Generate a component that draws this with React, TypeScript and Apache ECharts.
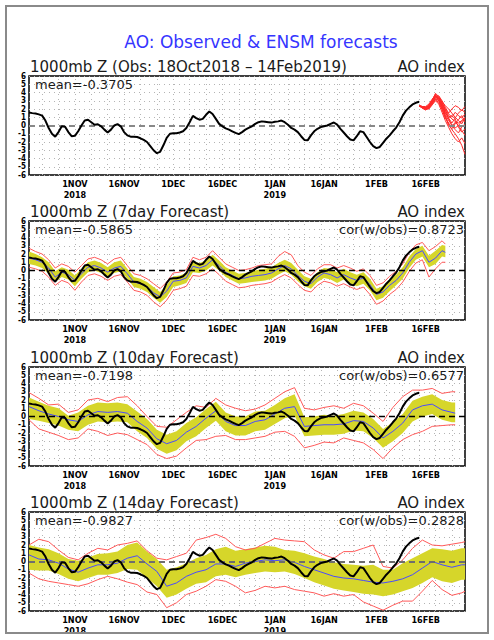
import React, { useEffect, useRef } from "react";
import * as echarts from "echarts";

// x axis: day index, day 0 = 18 Oct 2018, day 133 = 28 Feb 2019
const X_MAX_DAY = 133;
const TICK_DAYS = [14, 29, 44, 59, 75, 90, 106, 121];
const TICK_LABELS = ["1NOV\n2018", "16NOV", "1DEC", "16DEC", "1JAN\n2019", "16JAN", "1FEB", "16FEB"];
const Y_MIN = -6;
const Y_MAX = 6;

const MAIN_TITLE = "AO: Observed & ENSM forecasts";
const PANEL_TITLES = [
  "1000mb Z (Obs: 18Oct2018 – 14Feb2019)",
  "1000mb Z (7day Forecast)",
  "1000mb Z (10day Forecast)",
  "1000mb Z (14day Forecast)",
];
const PANEL_RIGHT = "AO index";
const PANEL_MEANS = ["mean=-0.3705", "mean=-0.5865", "mean=-0.7198", "mean=-0.9827"];
const PANEL_CORS = ["", "cor(w/obs)=0.8723", "cor(w/obs)=0.6577", "cor(w/obs)=0.2828"];

// Observed AO, daily from 18 Oct 2018 (day 0) to 14 Feb 2019 (day 119)
const OBS = [
  1.58, 1.5, 1.45, 1.35, 1.2, 0.6, -0.3, -1.0, -1.35, -0.8,
  -0.1, -0.15, -0.8, -1.3, -1.25, -0.7, 0.0, 0.6, 0.7, 0.4,
  0.1, 0.15, -0.1, -0.5, -0.85, -0.5, 0.0, 0.16, -0.1, -0.8,
  -1.2, -1.35, -1.35, -1.4, -1.55, -1.75, -2.0, -2.5, -3.0, -3.35,
  -3.2, -2.4, -1.5, -1.0, -0.93, -0.95, -0.85, -0.7, -0.3, 0.4,
  1.17, 0.9, 0.7, 0.8, 1.3, 1.7, 1.4, 0.8, 0.2, -0.1,
  -0.35, -0.5, -0.7, -0.9, -1.05, -0.8, -0.5, -0.3, -0.1, 0.2,
  0.4, 0.5, 0.45, 0.4, 0.35, 0.45, 0.5, 0.6, 0.4, 0.1,
  -0.3, -0.5, -0.8, -1.3, -1.75, -1.8, -1.2, -0.7, -0.4, -0.2,
  -0.1, 0.0, 0.2, 0.36, 0.1, -0.4, -0.85, -1.3, -1.7, -1.8,
  -1.3, -0.7, -0.8, -1.4, -2.0, -2.5, -2.75, -2.6, -2.1, -1.6,
  -1.2, -0.7, -0.25, 0.4, 1.2, 1.8, 2.2, 2.55, 2.75, 2.87,
];

// Panel 1: ensemble members, days 119..133
const ENS_DAYS = [119, 120, 121, 122, 123, 124, 125, 126, 127, 128, 129, 130, 131, 132, 133];
const ENS_MEMBERS = [
  [2.4, 2.2, 2.2, 2.5, 3.1, 3.8, 3.4, 2.6, 1.8, 1.2, 0.8, 0.5, 0.3, 0.6, 1.0],
  [2.4, 2.3, 2.1, 2.3, 2.8, 3.5, 3.6, 3.0, 2.2, 1.5, 2.0, 2.4, 2.2, 1.8, 2.3],
  [2.4, 2.2, 2.0, 2.1, 2.6, 3.2, 3.0, 2.0, 1.0, 0.2, -0.5, -1.0, -1.6, -2.4, -3.5],
  [2.4, 2.1, 1.9, 2.2, 2.9, 3.6, 3.2, 2.4, 1.3, 0.6, 0.1, -0.3, 0.0, 0.5, 0.8],
  [2.4, 2.3, 2.2, 2.4, 3.0, 3.9, 3.5, 2.8, 2.0, 1.4, 1.0, 1.6, 1.2, 0.9, 1.4],
  [2.4, 2.2, 2.0, 2.2, 2.7, 3.3, 3.1, 2.2, 1.2, 0.0, -0.4, 0.2, 0.7, 1.2, 0.4],
  [2.4, 2.2, 2.1, 2.3, 2.8, 3.4, 3.3, 2.7, 1.9, 0.9, 0.3, 0.9, 1.5, 1.9, 1.6],
  [2.4, 2.1, 2.0, 2.0, 2.5, 3.0, 2.6, 1.6, 0.6, -0.2, -1.0, -1.6, -2.0, -1.5, -2.2],
  [2.4, 2.3, 2.3, 2.6, 3.2, 3.7, 3.0, 2.3, 1.5, 1.0, 1.2, 0.8, -0.2, -0.8, -0.4],
  [2.4, 2.2, 2.1, 2.4, 3.0, 3.5, 3.3, 2.5, 1.6, 0.8, 0.0, -0.5, -0.9, -0.2, 0.2],
  [2.4, 2.2, 2.2, 2.3, 2.9, 3.6, 3.4, 2.9, 2.4, 2.0, 1.5, 1.0, 0.6, 0.2, 0.9],
  [2.4, 2.1, 1.9, 2.1, 2.7, 3.1, 2.8, 1.9, 0.9, 0.3, -0.2, 0.4, 0.0, -0.6, -1.2],
];

// Panel 2: 7-day forecast, every 2 days (0..126) + 127
const P2_DAYS = [
  0, 2, 4, 6, 8, 10, 12, 14, 16, 18, 20, 22, 24, 26, 28, 30, 32, 34, 36, 38,
  40, 42, 44, 46, 48, 50, 52, 54, 56, 58, 60, 62, 64, 66, 68, 70, 72, 74, 76, 78,
  80, 82, 84, 86, 88, 90, 92, 94, 96, 98, 100, 102, 104, 106, 108, 110, 112, 114, 116, 118,
  120, 122, 124, 126, 127,
];
const P2_MEAN = [
  1.5, 1.3, 1.0, 0.3, -0.8, -0.2, -0.5, -1.2, -0.4, 0.4,
  0.6, 0.3, -0.2, 0.3, 0.5, -0.4, -1.4, -1.6, -2.0, -2.7,
  -3.2, -2.5, -1.3, -1.2, -0.9, 0.5, 0.3, 0.6, 1.3, 0.6,
  -0.2, -0.6, -1.0, -0.9, -0.7, -0.6, -0.5, -0.3, 0.2, 0.6,
  0.2, -0.6, -1.3, -1.6, -0.8, -0.3, -0.5, -0.9, -0.5, -0.9,
  -1.2, -0.9, -1.7, -2.9, -2.6, -1.8, -1.2, -0.3, 1.0, 2.0,
  2.4, 1.0, 1.5, 2.4, 2.2,
];
const P2_YLO = [
  0.8, 0.6, 0.3, -0.4, -1.4, -0.8, -1.1, -1.9, -1.0, -0.2,
  0.0, -0.3, -0.8, -0.3, -0.1, -1.0, -2.0, -2.2, -2.6, -3.3,
  -3.9, -3.2, -2.0, -1.8, -1.5, -0.2, -0.3, 0.0, 0.6, 0.0,
  -0.8, -1.2, -1.6, -1.5, -1.4, -1.3, -1.2, -1.0, -0.5, -0.1,
  -0.5, -1.3, -1.9, -2.2, -1.4, -0.9, -1.1, -1.5, -1.1, -1.6,
  -1.9, -1.6, -2.4, -3.6, -3.3, -2.5, -1.8, -1.0, 0.3, 1.3,
  1.7, 0.4, 0.8, 1.7, 1.6,
];
const P2_YHI = [
  2.3, 2.0, 1.6, 1.0, -0.1, 0.4, 0.1, -0.6, 0.2, 1.0,
  1.2, 0.9, 0.4, 1.0, 1.2, 0.2, -0.8, -1.0, -1.4, -2.0,
  -2.6, -1.8, -0.7, -0.6, -0.3, 1.1, 0.9, 1.2, 1.9, 1.2,
  0.4, 0.0, -0.4, -0.3, -0.1, 0.1, 0.2, 0.4, 0.9, 1.3,
  0.9, 0.1, -0.7, -1.0, -0.2, 0.3, 0.2, -0.2, 0.2, -0.2,
  -0.5, -0.2, -1.0, -2.2, -1.9, -1.1, -0.5, 0.4, 1.7, 2.6,
  3.0, 1.8, 2.4, 3.1, 3.0,
];
const P2_RLO = [
  0.4, 0.2, -0.1, -0.8, -1.8, -1.2, -1.5, -2.4, -1.4, -0.6,
  -0.4, -0.7, -1.2, -0.7, -0.5, -1.4, -2.4, -2.6, -3.0, -3.8,
  -4.4, -3.6, -2.4, -2.2, -1.9, -0.6, -0.7, -0.4, 0.2, -0.5,
  -1.3, -1.7, -2.1, -2.0, -1.8, -1.7, -1.6, -1.4, -0.9, -0.5,
  -0.9, -1.7, -2.4, -2.6, -1.8, -1.3, -1.5, -1.9, -1.6, -2.0,
  -2.3, -2.0, -2.9, -4.1, -3.7, -2.9, -2.3, -1.4, -0.1, 0.9,
  1.3, -0.8, 0.2, 1.0, 1.0,
];
const P2_RHI = [
  2.7, 2.3, 2.0, 1.3, 0.3, 0.8, 0.5, -0.2, 0.6, 1.4,
  1.6, 1.3, 0.8, 1.4, 1.6, 0.6, -0.4, -0.6, -1.0, -1.6,
  -2.2, -1.4, -0.3, -0.2, 0.1, 1.6, 1.3, 1.6, 2.4, 1.6,
  0.8, 0.4, 0.0, 0.1, 0.3, 0.6, 0.7, 0.8, 1.7, 2.3,
  1.9, 0.6, -0.2, -0.6, 0.2, 0.7, 0.7, 0.3, 0.6, 0.3,
  -0.1, 0.2, -0.6, -1.8, -1.5, -0.7, -0.1, 0.8, 2.2, 3.1,
  3.4, 2.4, 2.9, 3.6, 3.2,
];

// Panel 3: 10-day forecast, every 3 days (0..129) + 130
const P3_DAYS = [
  0, 3, 6, 9, 12, 15, 18, 21, 24, 27, 30, 33, 36, 39, 42, 45, 48, 51, 54, 57,
  60, 63, 66, 69, 72, 75, 78, 81, 84, 87, 90, 93, 96, 99, 102, 105, 108, 111, 114, 117,
  120, 123, 126, 129, 130,
];
const P3_MEAN = [
  1.2, 0.7, 0.3, 0.0, -0.4, -0.6, 0.2, 0.6, 0.5, 0.6,
  0.4, -0.6, -1.4, -2.7, -3.3, -2.9, -1.9, -1.2, -0.2, 0.7,
  -0.6, -1.1, -1.1, -0.6, -0.4, 0.3, 1.0, 1.2, -1.2, -1.1,
  -1.0, -1.0, -0.9, -0.5, -0.6, -1.4, -2.6, -1.8, -0.8, 0.8,
  1.3, 1.5, 0.8, 0.5, 0.4,
];
const P3_YLO = [
  -0.3, -0.5, -0.8, -1.1, -1.6, -1.8, -1.0, -0.6, -0.7, -0.6,
  -0.7, -1.8, -2.6, -3.9, -4.5, -4.1, -3.0, -2.4, -1.4, -0.5,
  -1.8, -2.3, -2.3, -1.8, -1.6, -0.9, -0.2, 0.1, -2.4, -2.3,
  -2.2, -2.2, -2.1, -1.7, -1.8, -2.6, -3.8, -3.0, -2.0, -0.6,
  0.0, 0.3, -0.4, -0.7, -0.7,
];
const P3_YHI = [
  2.3, 1.8, 1.3, 1.0, 0.1, 0.5, 1.3, 1.7, 1.6, 1.7,
  1.5, 0.6, -0.3, -1.6, -2.2, -1.8, -0.8, -0.1, 0.9, 1.8,
  0.5, 0.0, 0.0, 0.6, 0.7, 1.4, 2.2, 2.7, -0.1, 0.0,
  0.2, 0.1, 0.3, 0.7, 0.5, -0.3, -1.5, -0.7, 0.3, 1.9,
  2.4, 2.7, 2.0, 1.7, 1.7,
];
const P3_RLO = [
  -0.4, -1.5, -1.9, -2.3, -2.8, -2.6, -1.5, -1.8, -2.3, -2.0,
  -2.2, -2.8, -3.4, -4.6, -5.1, -4.8, -3.8, -2.9, -2.8, -2.4,
  -2.3, -2.8, -2.8, -2.6, -2.4, -1.9, -1.8, -2.4, -3.8, -3.5,
  -3.1, -3.2, -2.6, -2.9, -3.2, -4.0, -5.1, -3.8, -2.8, -2.2,
  -1.8, -1.2, -1.1, -1.0, -1.0,
];
const P3_RHI = [
  2.9, 2.2, 1.4, 1.5, 0.5, 0.8, 2.0, 2.2, 1.8, 2.3,
  2.4, 1.3, 0.0, -1.2, -1.3, -0.4, 0.5, 1.3, 1.1, 2.2,
  1.4, 1.0, 0.7, 0.9, 1.4, 2.2, 3.0, 3.5, 1.0, 0.8,
  1.1, 1.3, 1.0, 1.6, 1.3, 0.4, -0.6, 1.1, 2.4, 3.2,
  3.2, 3.4, 2.8, 3.0, 3.0,
];

// Panel 4: 14-day forecast, every 3 days (0..132) + 133
const P4_DAYS = [
  0, 3, 6, 9, 12, 15, 18, 21, 24, 27, 30, 33, 36, 39, 42, 45, 48, 51, 54, 57,
  60, 63, 66, 69, 72, 75, 78, 81, 84, 87, 90, 93, 96, 99, 102, 105, 108, 111, 114, 117,
  120, 123, 126, 129, 132, 133,
];
const P4_MEAN = [
  0.8, 0.3, 0.2, -0.2, -0.9, -1.3, -0.8, -0.4, -0.4, -0.2,
  0.4, 0.7, -0.3, -1.2, -3.0, -2.6, -1.8, -1.3, -1.0, -0.3,
  -0.3, -0.6, -0.2, 0.0, 0.2, 0.1, 0.2, -0.1, -0.6, -1.0,
  -1.4, -1.8, -2.0, -2.1, -2.3, -2.5, -2.6, -2.4, -2.1, -1.6,
  -0.8, 0.0, -0.4, -0.7, -0.4, -0.4,
];
const P4_YLO = [
  -1.0, -1.1, -1.1, -1.5, -2.1, -2.4, -2.0, -1.6, -1.6, -1.4,
  -0.9, -1.0, -2.0, -3.0, -4.4, -4.0, -3.3, -2.7, -2.5, -1.8,
  -1.6, -1.9, -1.6, -1.4, -1.2, -1.3, -1.2, -1.5, -2.0, -2.5,
  -2.9, -3.3, -3.5, -3.7, -3.9, -4.0, -4.2, -4.0, -3.6, -3.2,
  -2.6, -1.9, -2.4, -2.6, -2.2, -2.2,
];
const P4_YHI = [
  2.0, 1.7, 1.5, 1.0, 0.3, 0.1, 0.5, 0.9, 1.0, 1.2,
  2.0, 2.3, 1.2, 0.3, -1.0, -0.7, -0.2, 0.4, 0.8, 1.5,
  1.8, 1.3, 1.5, 1.7, 1.9, 1.8, 1.4, 1.3, 1.0, 0.6,
  0.3, -0.1, -0.3, -0.4, -0.5, -0.4, -1.0, -1.0, -0.2, 0.4,
  1.0, 1.6, 1.5, 1.3, 1.6, 1.6,
];
const P4_RLO = [
  -1.4, -2.1, -2.4, -2.6, -2.8, -3.0, -2.7, -2.2, -1.8, -2.1,
  -2.5, -2.8, -3.7, -4.0, -5.6, -5.0, -4.0, -3.6, -3.0, -2.2,
  -2.4, -3.0, -3.8, -3.5, -3.0, -3.2, -3.0, -3.4, -3.6, -3.8,
  -4.2, -3.9, -4.2, -4.0, -4.9, -5.4, -5.9, -5.3, -4.8, -4.8,
  -3.6, -2.3, -3.4, -4.1, -3.8, -3.6,
];
const P4_RHI = [
  2.0, 2.7, 2.4, 1.4, 0.5, 0.2, 1.0, 1.6, 1.4, 2.0,
  2.2, 2.5, 1.3, 0.4, 0.2, 0.6, 1.0, 2.6, 2.9, 3.3,
  2.8, 1.8, 1.4, 1.6, 2.2, 2.8, 2.6, 2.5, 2.4, 1.4,
  0.8, 0.4, 1.2, 1.2, 1.6, 2.0, -0.6, -0.8, 0.2, 1.6,
  2.6, 2.0, 1.9, 2.1, 2.3, 2.4,
];

const FORECASTS = [
  null,
  { days: P2_DAYS, mean: P2_MEAN, ylo: P2_YLO, yhi: P2_YHI, rlo: P2_RLO, rhi: P2_RHI },
  { days: P3_DAYS, mean: P3_MEAN, ylo: P3_YLO, yhi: P3_YHI, rlo: P3_RLO, rhi: P3_RHI },
  { days: P4_DAYS, mean: P4_MEAN, ylo: P4_YLO, yhi: P4_YHI, rlo: P4_RLO, rhi: P4_RHI },
];

const GRID_LEFT = 29;
const GRID_WIDTH = 436;
const GRID_HEIGHT = 99;
const GRID_TOPS = [76, 221, 367, 512];
const ZERO_COLORS = ["#888888", "#000000", "#000000", "#6e6e6e"];
const DOT_STYLE = { type: [1, 4], color: "#b4b4b4", width: 1 };

const LABEL_FONT = "Liberation Sans Narrow, DejaVu Sans Condensed, Arial Narrow, sans-serif";
const TEXT_FONT = "DejaVu Sans, Verdana, sans-serif";

function pairs(days: number[], vals: number[]) {
  return days.map((d, i) => [d, vals[i]]);
}

export default function App() {
  const ref = useRef<HTMLDivElement>(null);

  useEffect(() => {
    if (!ref.current) return;
    const chart = echarts.init(ref.current, null, { renderer: "svg" });

    const obsDays = OBS.map((_, i) => i);
    const gridDays: number[] = [];
    for (let d = 4; d < X_MAX_DAY; d += 5) gridDays.push(d);

    const grids: any[] = [];
    const xAxes: any[] = [];
    const yAxes: any[] = [];
    const series: any[] = [];
    const graphic: any[] = [];

    GRID_TOPS.forEach((top, p) => {
      grids.push({
        left: GRID_LEFT,
        top,
        width: GRID_WIDTH,
        height: GRID_HEIGHT,
        show: true,
        borderColor: "#000",
        borderWidth: 1.5,
        backgroundColor: "transparent",
        containLabel: false,
        outerBoundsMode: "none",
      });
      xAxes.push({
        type: "value",
        gridIndex: p,
        min: 0,
        max: X_MAX_DAY,
        axisLine: { show: false },
        splitLine: { show: false },
        axisTick: { show: false },
        axisLabel: {
          customValues: TICK_DAYS,
          formatter: (v: number) => {
            const k = TICK_DAYS.indexOf(Math.round(v));
            return k >= 0 ? TICK_LABELS[k] : "";
          },
          fontSize: 9,
          fontWeight: "bold",
          fontFamily: LABEL_FONT,
          color: "#000",
          margin: 3,
          lineHeight: 11,
          hideOverlap: false,
        },
      });
      yAxes.push({
        type: "value",
        gridIndex: p,
        min: Y_MIN,
        max: Y_MAX,
        interval: 1,
        axisLine: { show: false },
        axisTick: { show: false },
        splitLine: { show: true, lineStyle: DOT_STYLE },
        axisLabel: {
          fontSize: 8,
          fontWeight: "bold",
          fontFamily: LABEL_FONT,
          color: "#000",
          margin: 3,
          showMinLabel: true,
          showMaxLabel: true,
          hideOverlap: false,
        },
      });

      // vertical dotted grid lines
      series.push({
        type: "line",
        xAxisIndex: p,
        yAxisIndex: p,
        data: [[0, 0]],
        symbol: "none",
        lineStyle: { opacity: 0 },
        silent: true,
        z: 1,
        markLine: {
          silent: true,
          symbol: ["none", "none"],
          label: { show: false },
          z: 1,
          lineStyle: DOT_STYLE,
          data: gridDays.map((d) => ({ xAxis: d })),
        },
      });

      const fc = FORECASTS[p];
      if (fc) {
        const { days, ylo, yhi } = fc;
        series.push({
          type: "custom",
          xAxisIndex: p,
          yAxisIndex: p,
          silent: true,
          clip: true,
          z: 2,
          data: days.map((d, i) => [d, ylo[i], yhi[i]]),
          encode: { x: 0, y: [1, 2] },
          renderItem: (params: any, api: any) => {
            if (params.dataIndex !== 0) return null;
            const pts: number[][] = [];
            for (let i = 0; i < days.length; i++) pts.push(api.coord([days[i], yhi[i]]));
            for (let i = days.length - 1; i >= 0; i--) pts.push(api.coord([days[i], ylo[i]]));
            return { type: "polygon", shape: { points: pts }, style: { fill: "#d6d62a" } };
          },
        });
        [fc.rlo, fc.rhi].forEach((vals) => {
          series.push({
            type: "line",
            xAxisIndex: p,
            yAxisIndex: p,
            data: pairs(days, vals),
            symbol: "none",
            silent: true,
            z: 3,
            lineStyle: { color: "#ff5a5a", width: 1 },
          });
        });
        series.push({
          type: "line",
          xAxisIndex: p,
          yAxisIndex: p,
          data: pairs(days, fc.mean),
          symbol: "none",
          silent: true,
          z: 4,
          lineStyle: { color: "#4a4aff", width: 1 },
        });
      } else {
        ENS_MEMBERS.forEach((m) => {
          series.push({
            type: "line",
            xAxisIndex: p,
            yAxisIndex: p,
            data: pairs(ENS_DAYS, m),
            symbol: "none",
            silent: true,
            z: 4,
            lineStyle: { color: "#ff2a2a", width: 1 },
          });
        });
      }

      // zero line
      series.push({
        type: "line",
        xAxisIndex: p,
        yAxisIndex: p,
        data: [[0, 0]],
        symbol: "none",
        lineStyle: { opacity: 0 },
        silent: true,
        z: 5,
        markLine: {
          silent: true,
          symbol: ["none", "none"],
          label: { show: false },
          z: 5,
          lineStyle: { type: [6, 4], color: ZERO_COLORS[p], width: p === 0 || p === 3 ? 2 : 1.3 },
          data: [{ yAxis: 0 }],
        },
      });

      // observed
      series.push({
        type: "line",
        xAxisIndex: p,
        yAxisIndex: p,
        data: pairs(obsDays, OBS),
        symbol: "none",
        silent: true,
        z: 6,
        lineStyle: { color: "#000", width: 2 },
      });

      // texts
      graphic.push({
        type: "text",
        x: GRID_LEFT + 1,
        y: top - 9,
        silent: true,
        style: {
          text: PANEL_TITLES[p],
          fill: "#1a1a1a",
          fontSize: 15,
          fontFamily: TEXT_FONT,
          align: "left",
          verticalAlign: "middle",
        },
      });
      graphic.push({
        type: "text",
        x: GRID_LEFT + GRID_WIDTH,
        y: top - 9,
        silent: true,
        style: {
          text: PANEL_RIGHT,
          fill: "#1a1a1a",
          fontSize: 15,
          fontFamily: TEXT_FONT,
          align: "right",
          verticalAlign: "middle",
        },
      });
      graphic.push({
        type: "text",
        x: GRID_LEFT + 6,
        y: top + 8,
        silent: true,
        z: 50,
        style: {
          text: PANEL_MEANS[p],
          fill: "#1a1a1a",
          fontSize: 13,
          fontFamily: TEXT_FONT,
          align: "left",
          verticalAlign: "middle",
        },
      });
      if (PANEL_CORS[p]) {
        graphic.push({
          type: "text",
          x: GRID_LEFT + GRID_WIDTH - 1,
          y: top + 8,
          silent: true,
          z: 50,
          style: {
            text: PANEL_CORS[p],
            fill: "#1a1a1a",
            fontSize: 13,
            fontFamily: TEXT_FONT,
            align: "right",
            verticalAlign: "middle",
          },
        });
      }
    });

    graphic.push({
      type: "text",
      x: 261,
      y: 42,
      silent: true,
      style: {
        text: MAIN_TITLE,
        fill: "#3535ff",
        fontSize: 17,
        fontFamily: TEXT_FONT,
        align: "center",
        verticalAlign: "middle",
      },
    });
    graphic.push({
      type: "rect",
      silent: true,
      z: 60,
      shape: { x: 6, y: 6, width: 482, height: 627 },
      style: { fill: "none", stroke: "#8a8a8a", lineWidth: 2 },
    });

    chart.setOption({
      animation: false,
      backgroundColor: "#ffffff",
      grid: grids,
      xAxis: xAxes,
      yAxis: yAxes,
      series,
      graphic,
    });

    return () => chart.dispose();
  }, []);

  return (
    <div
      ref={ref}
      style={{ position: "absolute", left: 0, top: 0, width: 494, height: 640, background: "#fff" }}
    />
  );
}
